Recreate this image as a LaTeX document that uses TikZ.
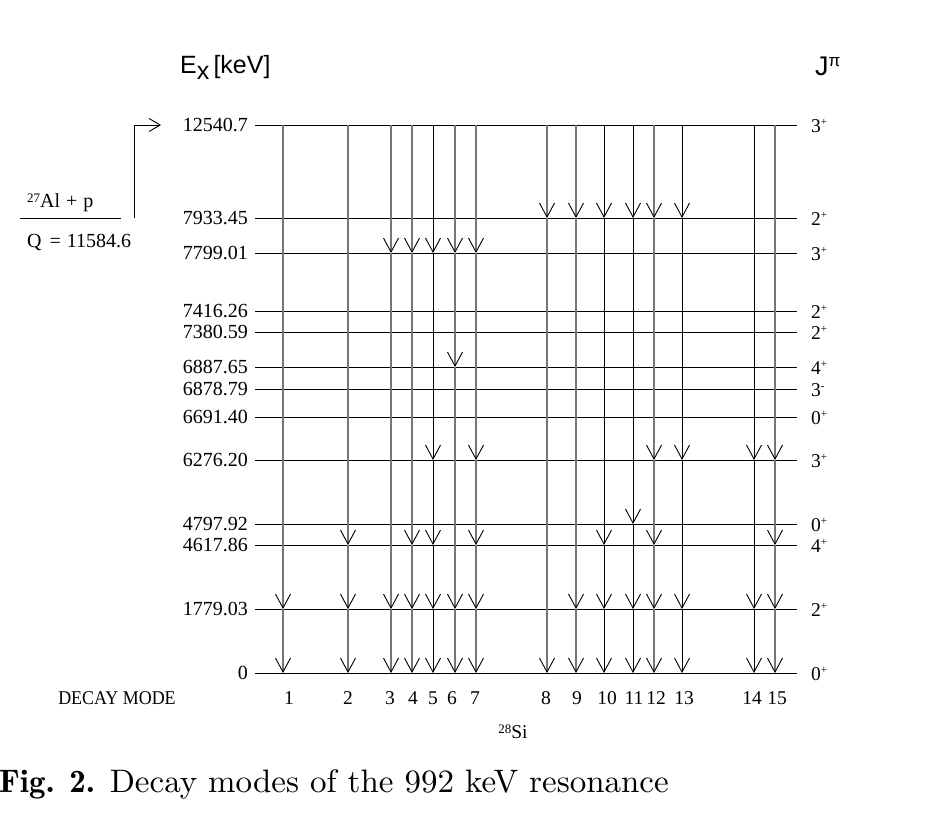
\documentclass[tikz,border=0pt]{standalone}
\usepackage{fontspec}
\setmainfont{Liberation Serif}
\newfontfamily\arialfont{Liberation Sans}
\usetikzlibrary{arrows.meta}
\newcommand\spl[1]{\raisebox{7.5pt}{\fontsize{11}{11}\selectfont #1}}
\newcommand\snum[1]{\raisebox{5pt}{\fontsize{13}{13}\selectfont #1}}
\definecolor{trgray}{RGB}{118,118,118}
\tikzset{
  level/.style={line width=1pt, black},
  lvllab/.style={anchor=base east, inner sep=0pt, font=\fontsize{20}{20}\selectfont},
  jlab/.style={anchor=base west, inner sep=0pt, font=\fontsize{19.5}{20}\selectfont},
  dmlab/.style={anchor=base, inner sep=0pt, font=\fontsize{19.5}{20}\selectfont},
  txt/.style={anchor=base west, inner sep=0pt, font=\fontsize{20}{20}\selectfont},
  tr/.style={line width=1.4pt, trgray, -{Straight Barb[length=14pt,width=15pt,line width=0.9pt,color=black]}},
  trb/.style={tr, line width=0.9pt, black},
  feed/.style={line width=1pt, black, -{Straight Barb[length=11pt,width=13pt,line width=0.9pt]}},
  col1/.style={tr}, col2/.style={tr}, col3/.style={tr}, col4/.style={tr},
  col5/.style={trb}, col6/.style={tr}, col7/.style={tr}, col8/.style={tr},
  col9/.style={tr}, col10/.style={trb}, col11/.style={trb}, col12/.style={tr},
  col13/.style={trb}, col14/.style={trb}, col15/.style={tr}
}
\begin{document}
\begin{tikzpicture}[x=1pt,y=-1pt]
\useasboundingbox (0,0) rectangle (936,825);
% energy levels
\foreach \n/\y/\e/\j in {
  a/125/12540.7/{3\spl{+}},
  b/218/7933.45/{2\spl{+}},
  c/253/7799.01/{3\spl{+}},
  d/311/7416.26/{2\spl{+}},
  e/332/7380.59/{2\spl{+}},
  f/367/6887.65/{4\spl{+}},
  g/389/6878.79/{3\spl{-}},
  h/417/6691.40/{0\spl{+}},
  i/460/6276.20/{3\spl{+}},
  j/524/4797.92/{0\spl{+}},
  k/545/4617.86/{4\spl{+}},
  l/609/1779.03/{2\spl{+}},
  z/673/0/{0\spl{+}}}{
  \coordinate (L\n) at (255,\y);
  \coordinate (R\n) at (797,\y);
  \node[lvllab] (E\n) at (248,\y+6.5) {\e};
  \node[jlab] (J\n) at (811,\y+7.5) {\j};
  \draw[level] (L\n) -- (R\n);
}
% columns
\foreach \c/\x in {1/283,2/348,3/391,4/412,5/433,6/455,7/476,8/547,9/576,10/604,11/633,12/654,13/682,14/754,15/775}{
  \coordinate (c\c) at (\x,0);
}
% transitions
\foreach \c/\p/\q in {
  1/a/l,1/l/z,
  2/a/k,2/k/l,2/l/z,
  3/a/c,3/c/l,3/l/z,
  4/a/c,4/c/k,4/k/l,4/l/z,
  5/a/c,5/c/i,5/i/k,5/k/l,5/l/z,
  6/a/c,6/c/f,6/f/l,6/l/z,
  7/a/c,7/c/i,7/i/k,7/k/l,7/l/z,
  8/a/b,8/b/z,
  9/a/b,9/b/l,9/l/z,
  10/a/b,10/b/k,10/k/l,10/l/z,
  11/a/b,11/b/j,11/j/l,11/l/z,
  12/a/b,12/b/i,12/i/k,12/k/l,12/l/z,
  13/a/b,13/b/i,13/i/l,13/l/z,
  14/a/i,14/i/l,14/l/z,
  15/a/i,15/i/k,15/k/l,15/l/z}{
  \draw[col\c] (c\c |- L\p) -- (c\c |- L\q);
}
% decay mode labels
\node[dmlab] (dm) at (117,704) {\scalebox{0.92}[1]{DECAY MODE}};
\foreach \c/\x in {1/289,2/348,3/390,4/413,5/433,6/452,7/475,8/546,9/577,10/607,11/634,12/656,13/684,14/752,15/777}{
  \node[dmlab] (m\c) at (\x,704) {\c};
}
\node[dmlab] (si) at (513,738) {\snum{28}Si};
% headers
\node[anchor=base west, inner sep=0pt, font=\arialfont\fontsize{25}{25}\selectfont] (ex) at (180,73) {E\raisebox{-6.5pt}{x}\,[keV]};
\node[anchor=base west, inner sep=0pt, font=\arialfont\fontsize{27}{27}\selectfont] (jp) at (815,75) {J\raisebox{9pt}{\fontsize{17}{17}\selectfont π}};
% entrance channel
\coordinate (q1) at (20,218);
\coordinate (q2) at (121,218);
\coordinate (qs) at (134,218);
\coordinate (qe) at (161,125);
\draw[level] (q1) -- (q2);
\node[txt] (alp) at (27,207) {\snum{27}Al\hspace{6pt}+\hspace{6pt}p};
\node[txt] (qv) at (27,247) {Q\hspace{8pt}=\hspace{6pt}11584.6};
\draw[feed] (qs) |- (qe);
% caption
\node[anchor=base west, inner sep=0pt] (cap) at (-1,792) {\scalebox{3.3}[3.25]{\fontfamily{lmr}\fontsize{10}{12}\selectfont\textbf{Fig. 2.} Decay modes of the 992 keV resonance}};
\end{tikzpicture}
\end{document}
